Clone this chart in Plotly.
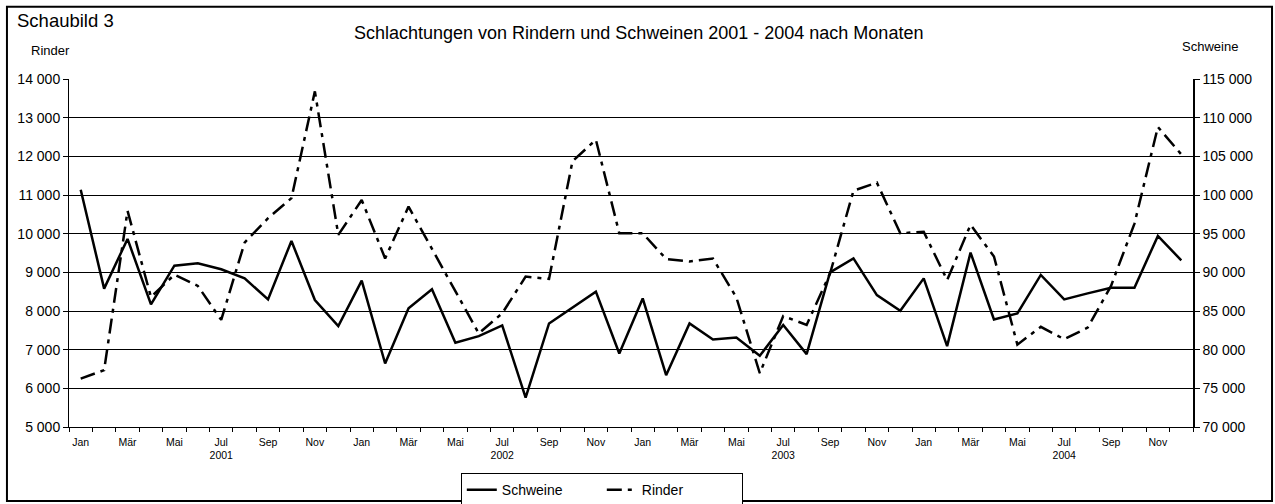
import plotly.graph_objects as go

months = ["Jan", "Feb", "Mär", "Apr", "Mai", "Jun", "Jul", "Aug", "Sep", "Okt", "Nov", "Dez"]
years = ["2001", "2002", "2003", "2004"]

schweine = [
    100670, 87890, 94320, 85860, 90860, 91170, 90400, 89220, 86500, 94060, 86420, 83050,
    88920, 78210, 85340, 87800, 80890, 81750, 83140, 73810, 83390, 85470, 87500, 79510,
    86630, 76700, 83390, 81320, 81580, 79210, 83180, 79420, 90000, 91810, 87060, 85040,
    89220, 80460, 92550, 83910, 84690, 89660, 86500, 87280, 88010, 88010, 94710, 91550,
]
rinder = [
    6250, 6470, 10590, 8360, 8940, 8650, 7770, 9770, 10400, 10920, 13680, 9970,
    10870, 9360, 10700, 9610, 8530, 7420, 7940, 8890, 8830, 11870, 12430, 10010,
    10010, 9345, 9280, 9355, 8350, 6390, 7870, 7640, 8970, 11110, 11320, 10010,
    10050, 8800, 10230, 9410, 7130, 7590, 7270, 7570, 8650, 10260, 12760, 12050,
]

x = list(range(len(schweine)))
tickvals = x[::2]
ticktext = []
for i in tickvals:
    m = months[i % 12]
    if m == "Jul":
        m = m + "<br>" + years[i // 12]
    ticktext.append(m)

FONT = "Liberation Sans, Arial, sans-serif"

fig = go.Figure()
fig.add_trace(go.Scatter(
    x=x, y=schweine, name="Schweine", mode="lines", yaxis="y2",
    line=dict(color="black", width=2.5),
))
fig.add_trace(go.Scatter(
    x=x, y=rinder, name="Rinder", mode="lines", yaxis="y",
    line=dict(color="black", width=2.5, dash="15px,6px,4px,6px"),
))

fig.update_layout(
    width=1275, height=504,
    margin=dict(l=69, r=82, t=79, b=77, autoexpand=False),
    paper_bgcolor="white", plot_bgcolor="white",
    separators=", ",
    font=dict(family=FONT, color="black"),
    showlegend=True,
    legend=dict(
        orientation="h", xref="container", yref="container",
        x=0.472, xanchor="center", y=0.061, yanchor="top",
        bordercolor="black", borderwidth=1, font=dict(size=14),
        bgcolor="white", traceorder="normal",
        entrywidth=95,
    ),
    xaxis=dict(
        range=[-0.5, len(x) - 0.5], automargin=False,
        tickmode="array", tickvals=tickvals, ticktext=ticktext,
        ticks="outside", ticklen=5, tickcolor="rgba(0,0,0,0)",
        tickfont=dict(size=10.5),
        showline=True, linecolor="black", linewidth=1,
        showgrid=False, zeroline=False,
        minor=dict(tickmode="linear", tick0=-0.5, dtick=1, ticks="outside",
                   ticklen=4, tickcolor="black", tickwidth=1, showgrid=False),
    ),
    yaxis=dict(
        range=[5000, 14000], dtick=1000, tick0=5000, tickformat=",d",
        automargin=False,
        ticks="outside", ticklen=5, tickcolor="black",
        tickfont=dict(size=14),
        showline=True, linecolor="black", linewidth=1,
        showgrid=True, gridcolor="black", gridwidth=1, zeroline=False,
    ),
    yaxis2=dict(
        range=[70000, 115000], dtick=5000, tick0=70000, tickformat=",d",
        overlaying="y", side="right", automargin=False,
        ticks="outside", ticklen=5, tickcolor="black",
        tickfont=dict(size=14),
        showline=True, linecolor="black", linewidth=1.5,
        showgrid=False, zeroline=False,
    ),
    shapes=[dict(
        type="rect", xref="paper", yref="paper",
        x0=-0.0552, x1=1.0703, y0=-0.2128, y1=1.2079,
        line=dict(color="black", width=2), fillcolor="rgba(0,0,0,0)", layer="below",
    )],
    annotations=[
        dict(text="Schaubild 3", xref="paper", yref="paper", x=-0.048, y=1.1677,
             xanchor="left", yanchor="middle", showarrow=False, font=dict(size=18.5)),
        dict(text="Schlachtungen von Rindern und Schweinen 2001 - 2004 nach Monaten",
             xref="paper", yref="paper", x=0.5067, y=1.1317,
             xanchor="center", yanchor="middle", showarrow=False, font=dict(size=18)),
        dict(text="Rinder", xref="paper", yref="paper", x=-0.0162, y=1.0814,
             xanchor="center", yanchor="middle", showarrow=False, font=dict(size=13)),
        dict(text="Schweine", xref="paper", yref="paper", x=1.0151, y=1.0929,
             xanchor="center", yanchor="middle", showarrow=False, font=dict(size=13)),
    ],
)

fig.write_html(
    "out.html",
    config={"displayModeBar": False},
    post_script="document.body.style.margin='0';document.body.style.padding='0';",
)
